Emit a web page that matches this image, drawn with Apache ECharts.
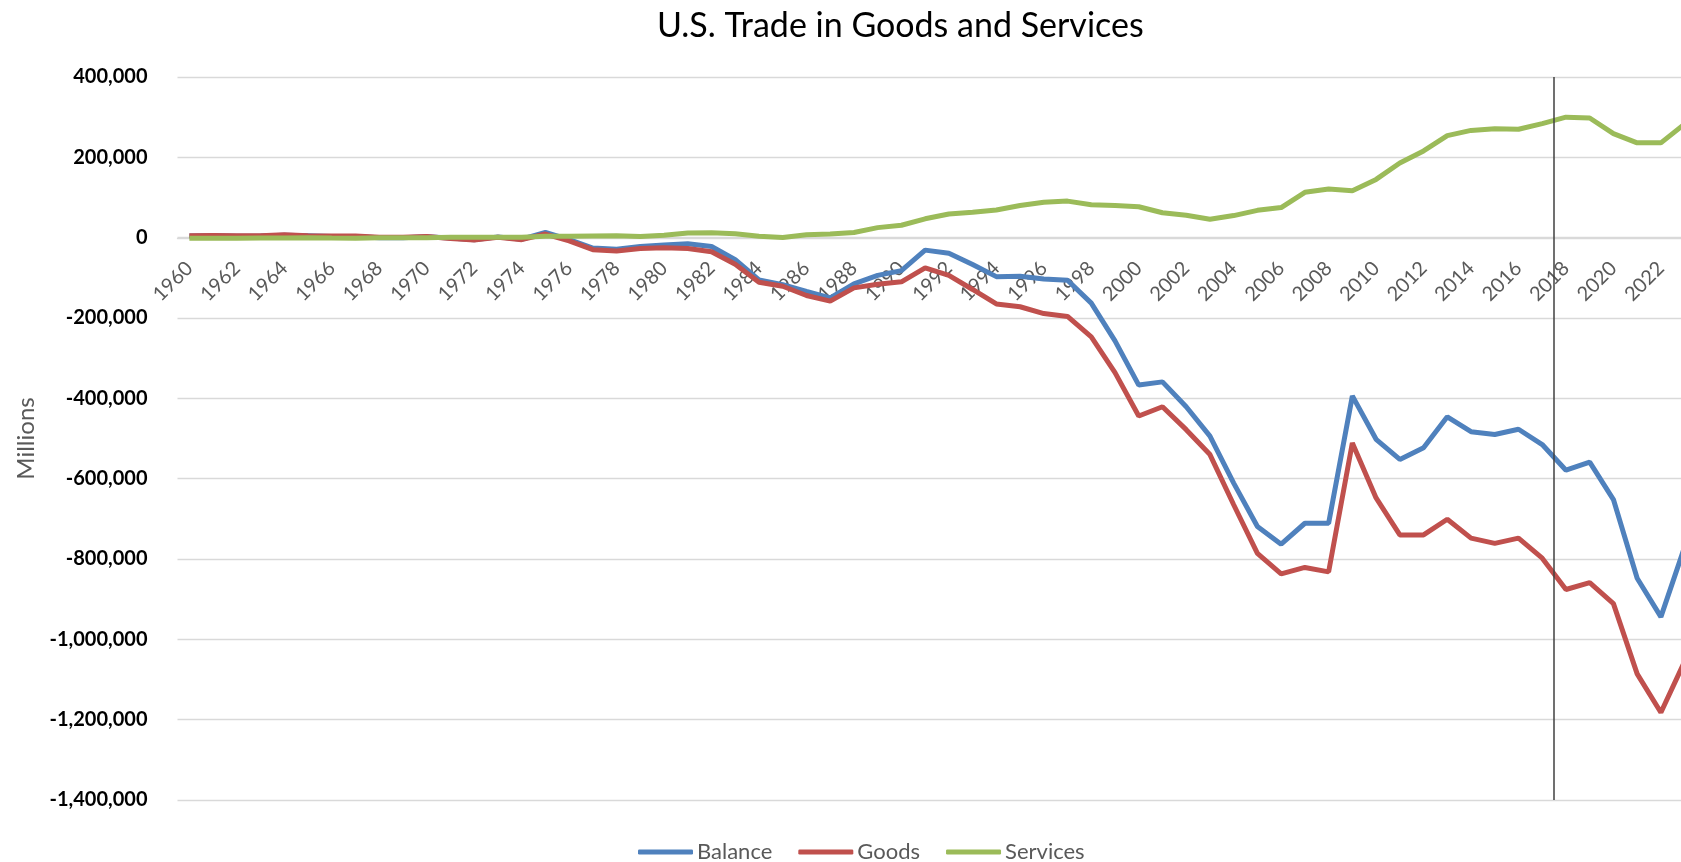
<!DOCTYPE html>
<html>
<head>
<meta charset="utf-8">
<title>U.S. Trade in Goods and Services</title>
<script src="https://cdn.jsdelivr.net/npm/echarts@6/dist/echarts.min.js"></script>
<style>
  html, body { margin: 0; padding: 0; background: #fff; }
  #main { width: 1681px; height: 862px; }
</style>
</head>
<body>
<div id="main"></div>
<script>
// years 1960 - 2023, values in millions of dollars
var years = [];
for (var y = 1960; y <= 2023; y++) years.push(String(y));

var balance = [
  4000, 4500, 3500, 4000, 6000, 5000, 3000, 3000, 0, 0,
  2000, -1000, -5000, 2000, -4000, 13000, -5000, -26000, -29000, -22000,
  -18000, -15000, -22000, -55000, -105000, -117000, -134000, -150000, -115000, -94000,
  -82000, -31000, -39000, -67000, -97000, -96000, -103000, -106000, -163000, -257000,
  -367000, -359000, -421000, -494000, -611000, -719000, -763000, -711000, -711000, -394000,
  -502000, -552000, -523000, -446000, -483000, -490000, -477000, -515000, -579000, -559000,
  -652000, -848000, -944000, -770000
];

var goods = [
  5000, 5500, 4500, 5000, 7000, 5000, 4000, 4000, 1000, 1000,
  3000, -2000, -6000, 1000, -5000, 9000, -8000, -30000, -33000, -27000,
  -25000, -27000, -35000, -66000, -111000, -121000, -144000, -158000, -125000, -116000,
  -110000, -75000, -94000, -129000, -165000, -172000, -189000, -196000, -247000, -336000,
  -444000, -421000, -478000, -540000, -665000, -786000, -837000, -821000, -832000, -511000,
  -648000, -740000, -740000, -701000, -748000, -761000, -748000, -798000, -876000, -859000,
  -911000, -1086000, -1182000, -1055000
];

var services = [
  -1400, -1400, -1200, -1000, -800, -300, -900, -1200, -400, -500,
  -300, 1000, 1000, 1000, 1200, 3500, 3500, 4000, 4500, 3000,
  6000, 11500, 12500, 9500, 3500, 500, 7000, 9000, 13000, 25000,
  31000, 47000, 59000, 63000, 69000, 80000, 88000, 91000, 82000, 80000,
  77000, 62000, 56000, 46000, 55000, 68000, 75000, 113000, 121000, 117000,
  145000, 186000, 216000, 254000, 267000, 271000, 270000, 284000, 300000, 298000,
  259000, 236000, 236000, 283000
];

// vertical marker sits on the boundary between the 2017 and 2018 bands
var markerYear = 2017.5;

var FONT = 'Lato';

var myChart = echarts.init(document.getElementById('main'));

var option = {
  animation: false,
  color: ['#4F81BD', '#C0504D', '#9BBB59'],
  title: {
    text: 'U.S. Trade in Goods and Services',
    left: 657,
    top: 9,
    padding: 0,
    textStyle: {
      fontFamily: FONT,
      fontSize: 34,
      fontWeight: 'normal',
      color: '#000'
    }
  },
  legend: {
    left: 638,
    top: 841,
    padding: 0,
    itemGap: 26,
    itemWidth: 55,
    itemHeight: 5,
    icon: 'roundRect',
    textStyle: {
      fontFamily: FONT,
      fontSize: 22,
      color: '#595959',
      padding: [0, 0, 0, -1]
    },
    data: ['Balance', 'Goods', 'Services']
  },
  grid: {
    left: 177.5,
    width: 1519, // plot runs past the right edge, as in the source picture
    top: 77,
    bottom: 62,
    outerBoundsMode: 'none'
  },
  xAxis: [
    {
      type: 'category',
      data: years,
      boundaryGap: true,
      // axis sits on the zero line (bottom of grid is -1,400,000; zero is 562px above)
      offset: -562,
      axisLine: { onZero: false, lineStyle: { color: '#D9D9D9', width: 1.3 } },
      axisTick: { show: false },
      axisLabel: {
        interval: 1,
        rotate: 45,
        margin: 27,
        fontFamily: FONT,
        fontSize: 20,
        color: '#595959'
      }
    },
    {
      // hidden continuous year axis, aligned with the category bands, for the marker line
      type: 'value',
      show: false,
      min: 1959.5,
      max: 2023.5
    }
  ],
  yAxis: {
    type: 'value',
    min: -1400000,
    max: 400000,
    interval: 200000,
    name: 'Millions',
    nameLocation: 'middle',
    nameGap: 132,
    nameTextStyle: {
      fontFamily: FONT,
      fontSize: 24,
      color: '#595959'
    },
    axisLine: { show: false },
    axisTick: { show: false },
    splitLine: { lineStyle: { color: '#D9D9D9', width: 1.3 } },
    axisLabel: {
      margin: 30,
      fontFamily: FONT,
      fontSize: 20,
      fontWeight: 'bold',
      color: '#000',
      formatter: function (v) {
        return v.toLocaleString('en-US');
      }
    }
  },
  series: [
    {
      name: 'Balance',
      type: 'line',
      data: balance,
      showSymbol: false,
      lineStyle: { width: 5 }
    },
    {
      name: 'Goods',
      type: 'line',
      data: goods,
      showSymbol: false,
      lineStyle: { width: 5 }
    },
    {
      name: 'Services',
      type: 'line',
      data: services,
      showSymbol: false,
      lineStyle: { width: 5 }
    },
    {
      name: 'marker',
      type: 'line',
      xAxisIndex: 1,
      data: [],
      markLine: {
        silent: true,
        symbol: 'none',
        label: { show: false },
        lineStyle: { color: '#404040', width: 1.5, type: 'solid' },
        data: [{ xAxis: markerYear }]
      }
    }
  ]
};

myChart.setOption(option);
</script>
</body>
</html>
